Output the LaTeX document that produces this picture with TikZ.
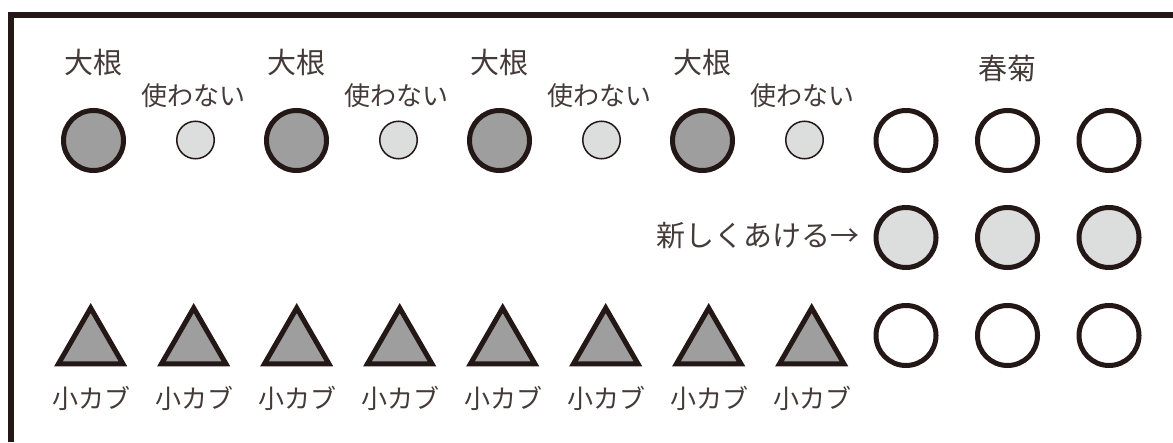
\documentclass[tikz,border=0pt]{standalone}
\usepackage{fontspec}
\setmainfont{Noto Sans CJK JP}
\usetikzlibrary{shapes.geometric}
\definecolor{ink}{HTML}{231815}
\definecolor{darkfill}{HTML}{9E9E9F}
\definecolor{lightfill}{HTML}{DCDDDD}
\tikzset{
  bigdark/.style={circle,draw=ink,line width=5pt,fill=darkfill,minimum size=60pt,inner sep=0pt},
  smalllight/.style={circle,draw=ink,line width=1.5pt,fill=lightfill,minimum size=37.5pt,inner sep=0pt},
  openring/.style={circle,draw=ink,line width=5pt,fill=white,minimum size=60pt,inner sep=0pt},
  newring/.style={circle,draw=ink,line width=5pt,fill=lightfill,minimum size=60pt,inner sep=0pt},
  tri/.style={regular polygon,regular polygon sides=3,draw=ink,line width=5pt,fill=darkfill,minimum size=74.4pt,inner sep=0pt},
  biglabel/.style={text=ink!85,font=\fontsize{29pt}{29pt}\selectfont,inner sep=0pt},
  smalllabel/.style={text=ink!85,font=\fontsize{26pt}{26pt}\selectfont,inner sep=0pt},
  frame/.style={draw=ink,line width=6pt}
}
\begin{document}
\begin{tikzpicture}[x=1pt,y=-1pt]
\useasboundingbox (0,0) rectangle (1173,442);
\coordinate (fbl) at (11,442);
\coordinate (ftl) at (11,15);
\coordinate (ftr) at (1173,15);
\draw[frame] (fbl) -- (ftl) -- (ftr);
% radish and unused
\foreach \i in {0,1,2,3}{
  \node[bigdark] (d\i) at ({93.5+203*\i},140.5) {};
  \node[biglabel] (dl\i) at ({93.5+203*\i},63) {大根};
  \node[smalllight] (u\i) at ({195.5+203*\i},140) {};
  \node[smalllabel] (ul\i) at ({193.5+203*\i},95.5) {使わない};
}
% turnips
\foreach \i in {0,...,7}{
  \node[tri] (t\i) at ({90.7+103*\i},345.2) {};
  \node[smalllabel] (tl\i) at ({91.5+103*\i},398) {小カブ};
}
% shungiku
\node[biglabel] (sl) at (1007.5,68) {春菊};
\foreach \j/\x in {0/906,1/1007.5,2/1109}{
  \node[openring] (a\j) at (\x,140.5) {};
  \node[newring] (b\j) at (\x,237.5) {};
  \node[openring] (c\j) at (\x,335.5) {};
}
\node[biglabel,anchor=east] (nl) at (860,236) {新しくあける→};
\end{tikzpicture}
\end{document}
